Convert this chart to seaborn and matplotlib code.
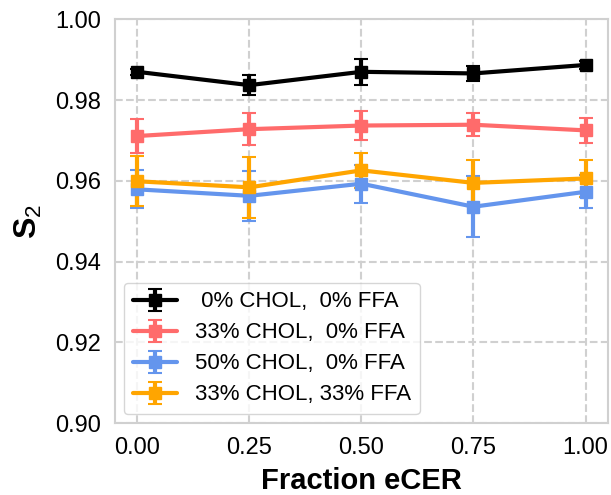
import numpy as np
import matplotlib
matplotlib.use("Agg")
import matplotlib.pyplot as plt
import seaborn as sns

# fraction of eCER
frac = [0.0, 0.25, 0.5, 0.75, 1.0]

labels = [" 0% CHOL,  0% FFA", "33% CHOL,  0% FFA",
          "50% CHOL,  0% FFA", "33% CHOL, 33% FFA"]
colors = ["black", "#ff6b6b", "#6495ed", "#ffa500"]

s2_chol0 = [0.9870, 0.9837, 0.9870, 0.9866, 0.9887]
err_chol0 = [0.0007, 0.0025, 0.0032, 0.0018, 0.0011]

s2_chol33 = [0.9711, 0.9728, 0.9737, 0.9739, 0.9725]
err_chol33 = [0.0042, 0.0040, 0.0035, 0.0028, 0.0030]

s2_chol50 = [0.9579, 0.9563, 0.9593, 0.9536, 0.9573]
err_chol50 = [0.0047, 0.0062, 0.0047, 0.0075, 0.0041]

s2_ffa33 = [0.9599, 0.9584, 0.9626, 0.9595, 0.9606]
err_ffa33 = [0.0062, 0.0076, 0.0043, 0.0057, 0.0045]

series = [(s2_chol0, err_chol0), (s2_chol33, err_chol33),
          (s2_chol50, err_chol50), (s2_ffa33, err_ffa33)]

sns.set_theme(style="whitegrid")
plt.rcParams["font.family"] = ["Liberation Sans", "DejaVu Sans"]
plt.rcParams["mathtext.fontset"] = "custom"
plt.rcParams["mathtext.rm"] = "Liberation Sans"
plt.rcParams["mathtext.bf"] = "Liberation Sans:bold"
for k in ["text.color", "axes.labelcolor", "xtick.color", "ytick.color"]:
    plt.rcParams[k] = "black"

fig, ax = plt.subplots(figsize=(6.11, 4.95), dpi=100)
fig.subplots_adjust(left=0.188, right=0.995, top=0.961, bottom=0.145)

for (y, e), lab, c in zip(series, labels, colors):
    ax.errorbar(frac, y, yerr=e, color=c, label=lab, lw=3, marker="s",
                ms=8, capsize=5, capthick=1.5, elinewidth=3)

ax.set_xlim(-0.05, 1.05)
ax.set_ylim(0.90, 1.00)
ax.set_xticks(frac)
ax.set_yticks(np.arange(0.90, 1.001, 0.02))
ax.xaxis.set_major_formatter(matplotlib.ticker.FormatStrFormatter("%.2f"))
ax.yaxis.set_major_formatter(matplotlib.ticker.FormatStrFormatter("%.2f"))
ax.tick_params(labelsize=17, pad=4)

ax.grid(True, ls="--", lw=1.5, color="#d0d0d0")
for sp in ax.spines.values():
    sp.set_color("#d0d0d0")
    sp.set_linewidth(1.5)

ax.set_xlabel("Fraction eCER", fontsize=21, fontweight="bold", labelpad=6)
ax.set_ylabel(r"$\mathbf{S}_\mathrm{2}$", fontsize=23, labelpad=8)

ax.legend(loc="lower left", fontsize=16, frameon=True, handlelength=2.0,
          borderaxespad=0.4, labelspacing=0.45, handletextpad=0.8,
          borderpad=0.4)

fig.savefig("out.png", dpi=100)
